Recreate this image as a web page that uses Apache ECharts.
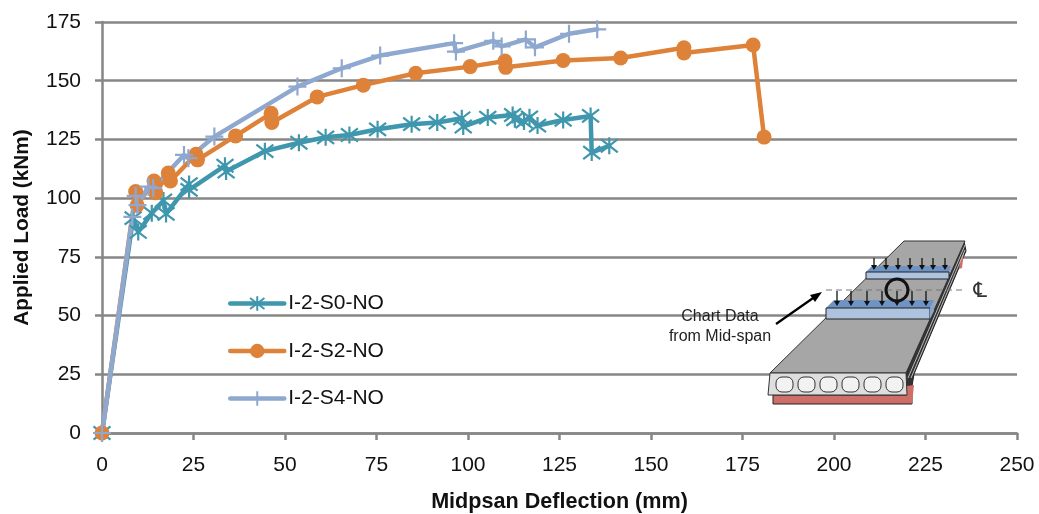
<!DOCTYPE html>
<html><head><meta charset="utf-8">
<style>html,body{margin:0;padding:0;background:#fff}#c{width:1039px;height:514px}</style>
<script src="https://cdn.jsdelivr.net/npm/echarts@6/dist/echarts.min.js"></script>
</head><body><div id="c"></div>
<script>
const seriesNames = ['I-2-S0-NO','I-2-S2-NO','I-2-S4-NO'];
const xTicks = [0,25,50,75,100,125,150,175,200,225,250];
const yTicks = [0,25,50,75,100,125,150,175];
const s0 = [[0,0],[8.5,91.5],[9.9,85.6],[13.6,93.6],[16.8,99],[17.5,93.3],[23.8,106],[23.8,103.5],[33.6,113.8],[33.9,111.3],[44.5,120],[53.8,123.6],[61.1,125.9],[67.6,126.9],[75.3,129.3],[84.6,131.5],[91.6,132.2],[98.3,134],[98.7,130.5],[105.4,134.3],[112.2,135.4],[112.8,133.6],[115.3,132.6],[116.8,134.4],[119,130.9],[126,133.3],[133.5,135],[133.8,119.4],[138.6,122.3]];
const s2 = [[0,0],[9.2,102.8],[9.6,97],[14.2,107.3],[14.7,102.3],[18.1,110.7],[18.7,107.3],[25.7,118.7],[26.1,116.3],[36.5,126.5],[46.2,136.1],[46.4,132.2],[58.8,143.1],[71.4,148.1],[85.7,153.2],[100.6,156],[110.1,158.4],[110.3,155.7],[126,158.6],[141.7,159.7],[159,164],[159,161.8],[177.9,165.2],[180.9,126]];
const s4 = [[0,0],[8.3,92],[9.2,101],[9.7,97],[12.7,104.9],[14,104.3],[22.4,118.4],[23.6,117],[30.7,126.2],[53.4,147.5],[65.5,155.3],[76,160.7],[96.2,166],[96.7,162.4],[106.9,167],[109.2,164.6],[115.8,167.6],[118.3,164.2],[127.6,170],[135.3,171.9]];
const colors = ['#3f97ae','#dd8238','#8fa8d0'];
const AST = 'path://M0 0L10 10M10 0L0 10M5 -1.5L5 11.5';
const PLUS = 'path://M0 5L10 5M5 0L5 10';
const GRID = '#868686';
const FONT = '"Liberation Sans",sans-serif';

function ser(name,data,color,symbol,size,hollow){
  return {name,type:'line',data,clip:false,symbol,symbolSize:size,showSymbol:true,
    lineStyle:{color,width:4.5,cap:'round',join:'round'},
    itemStyle: hollow?{color:'rgba(0,0,0,0)',borderColor:color,borderWidth:2.2}:{color,borderColor:color,borderWidth:0},
    emphasis:{disabled:true},animation:false};
}
const g = [];
const poly=(pts,fill,stroke,lw,z)=>g.push({type:'polygon',shape:{points:pts},style:{fill:fill,stroke:stroke||null,lineWidth:lw||1},z:z||10});
const line=(x1,y1,x2,y2,stroke,lw,dash)=>g.push({type:'line',shape:{x1,y1,x2,y2},style:{stroke,lineWidth:lw||1,lineDash:dash||null},z:12});
// deck side layers
poly([[906,373],[964,241],[966,251],[914,374],[912,386],[906,386]],'#333','#222',1);
line(908,378,965,245,'#ddd',0.8); line(911,378,965,250,'#ddd',0.8);
// pink soffit
poly([[773,395],[912,395],[912,404],[773,404]],'#cd6f68','#222',1);
poly([[906,386],[914,385],[912,404],[906,395]],'#cd6f68',null);
poly([[960,262],[964,252],[962,268],[959,269]],'#cd6f68',null);
// top deck
poly([[770,373],[904,241],[965,241],[906,373]],'#a6a6a6','#333',1);
// front face
poly([[770,373],[906,373],[907,395],[768,395]],'#dedede','#333',1);
[776,798,820,842,864,886].forEach(x=>g.push({type:'rect',shape:{x:x,y:377,width:17,height:15,r:6},style:{fill:'#f2f2f2',stroke:'#333',lineWidth:1},z:11}));
// far plate
poly([[866,272],[872,266],[951,266],[949,272]],'#6f93c2',null);
poly([[866,272],[949,272],[949,279],[866,279]],'#aec3df','#222',1);
// near plate
poly([[826,308],[834,300],[934,300],[930,308]],'#6f93c2',null);
poly([[826,308],[930,308],[930,319],[826,319]],'#aec3df','#222',1);
poly([[930,308],[934,300],[934,311],[930,319]],'#8aa5cc',null);
// dashed centre line
line(826,290,966,290,'#777',1,[6,4]);
// arrows
const arrow=(x,y1,y2)=>{line(x,y1,x,y2-3,'#111',1.3);poly([[x-3,y2-5],[x+3,y2-5],[x,y2]],'#111',null,1,12);};
[874,886,898,910,922,933,945].forEach(x=>arrow(x,258,270));
[837,851,867,882,897,912,926].forEach(x=>arrow(x,291,306));
g.push({type:'circle',shape:{cx:897,cy:290,r:11},style:{fill:'none',stroke:'#111',lineWidth:3},z:13});
line(776,324,816,296,'#000',2.2);
poly([[822,292],[810,295],[815,302]],'#000',null,1,13);
g.push({type:'text',x:720,y:327,style:{text:'Chart Data\nfrom Mid-span',fill:'#222',font:'16px "Liberation Sans",sans-serif',align:'center',verticalAlign:'middle',lineHeight:20},z:14});
g.push({type:'text',x:980,y:292,style:{text:'\u2104',fill:'#333',font:'21px "DejaVu Sans",sans-serif',align:'center',verticalAlign:'middle'},z:14});

const chart = echarts.init(document.getElementById('c'),null,{renderer:'canvas'});
chart.setOption({
  animation:false,backgroundColor:'#fff',
  grid:{left:102,right:22,top:22,bottom:81,containLabel:false,outerBoundsMode:'none'},
  legend:{show:true,orient:'vertical',left:223,top:288,itemWidth:54,itemHeight:18,itemGap:26.5,
    data:seriesNames,selectedMode:false,
    lineStyle:{width:4.5},
    textStyle:{fontFamily:FONT,fontSize:21,color:'#111',padding:[0,0,0,-1]}},
  xAxis:{type:'value',min:0,max:250,interval:25,
    name:'Midpsan Deflection (mm)',nameLocation:'middle',nameGap:58,
    nameTextStyle:{fontFamily:FONT,fontSize:21.6,fontWeight:'bold',color:'#111'},
    axisLine:{show:true,onZero:false,lineStyle:{color:GRID,width:2.5}},
    axisTick:{show:true,length:7,lineStyle:{color:GRID,width:2.5}},
    axisLabel:{fontFamily:FONT,fontSize:21,color:'#111',margin:22,showMinLabel:true,showMaxLabel:true,hideOverlap:false},
    splitLine:{show:false}},
  yAxis:{type:'value',min:0,max:175,interval:25,
    name:'Applied Load (kNm)',nameLocation:'middle',nameGap:69,
    nameTextStyle:{fontFamily:FONT,fontSize:20.8,fontWeight:'bold',color:'#111'},
    axisLine:{show:true,onZero:false,lineStyle:{color:GRID,width:2.5}},
    axisTick:{show:true,length:7,lineStyle:{color:GRID,width:2.5}},
    axisLabel:{fontFamily:FONT,fontSize:21,color:'#111',margin:21,showMinLabel:true,showMaxLabel:true,hideOverlap:false},
    splitLine:{show:true,lineStyle:{color:GRID,width:2.5}}},
  series:[
    ser(seriesNames[0],s0,colors[0],AST,17,true),
    ser(seriesNames[1],s2,colors[1],'circle',15,false),
    ser(seriesNames[2],s4,colors[2],PLUS,18,true)
  ],
  graphic:g
});
</script></body></html>
